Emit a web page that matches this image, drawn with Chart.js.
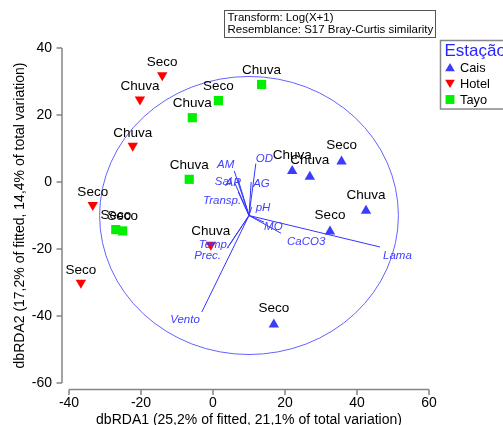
<!DOCTYPE html>
<html>
<head>
<meta charset="utf-8">
<script src="https://cdn.jsdelivr.net/npm/chart.js@4/dist/chart.umd.min.js"></script>
<style>
  html, body { margin: 0; padding: 0; background: #fff; overflow: hidden; }
  canvas { display: block; }
</style>
</head>
<body>
<canvas id="c" width="503" height="425"></canvas>
<script>
// dbRDA sample scores, one set of arrays per station
const caisX = [22.0, 26.9, 35.7, 42.5, 32.5, 16.9];
const caisY = [3.3, 1.6, 6.1, -8.6, -14.8, -42.5];
const caisSeason = ['Chuva', 'Chuva', 'Seco', 'Chuva', 'Seco', 'Seco'];

const hotelX = [-14.1, -20.3, -22.3, -33.4, -36.7, -0.6];
const hotelY = [31.9, 24.6, 10.8, -6.9, -30.1, -18.7];
const hotelSeason = ['Seco', 'Chuva', 'Chuva', 'Seco', 'Seco', 'Chuva'];

const tayoX = [13.5, 1.5, -5.75, -6.6, -27.0, -25.1];
const tayoY = [29.1, 24.3, 19.2, 0.8, -14.2, -14.6];
const tayoSeason = ['Chuva', 'Seco', 'Chuva', 'Chuva', 'Seco', 'Seco'];

// Environmental predictor vectors (end points, axis units)
const vectorNames = ['Lama', 'CaCO3', 'MO', 'pH', 'OD', 'AG', 'AM', 'AP', 'Sal', 'Transp.', 'Temp.', 'Prec.', 'Vento'];
const vectorX = [46.4, 18.9, 14.2, 10.75, 11.9, 10.6, 5.9, 6.9, 6.1, 7.0, 4.5, 3.9, -3.1];
const vectorY = [-19.4, -15.3, -12.0, -7.5, 5.5, 0.0, 3.3, 1.0, -0.4, -3.0, -18.9, -19.8, -38.8];
const vectorOrigin = [10, -10];
const circleRadius = 41.5;

const xTicks = [-40, -20, 0, 20, 40, 60];
const yTicks = [-60, -40, -20, 0, 20, 40];

const xTitle = 'dbRDA1 (25,2% of fitted, 21,1% of total variation)';
const yTitle = 'dbRDA2 (17,2% of fitted, 14,4% of total variation)';
const noteLines = ['Transform: Log(X+1)', 'Resemblance: S17 Bray-Curtis similarity'];
const legendTitle = 'Estação';

const SANS = '"Liberation Sans", Arial, Helvetica, sans-serif';
const BLUE = '#3c3cff';
const RED = '#ff0000';
const GREEN = '#00f000';

function series(label, xs, ys, seasons, color, style, rotation, radius) {
  return {
    label,
    seasons,
    data: xs.map((x, i) => ({ x, y: ys[i] })),
    pointStyle: style,
    rotation,
    pointRadius: radius,
    pointHoverRadius: radius,
    backgroundColor: color,
    borderColor: color,
    borderWidth: 0,
    showLine: false,
    clip: false
  };
}

// offsets (px) of each vector label from its arrow tip
const vectorLabelPlace = {
  'Lama':    ['left', 3, 8],
  'CaCO3':   ['left', 6, 8],
  'MO':      ['left', 0, 4],
  'pH':      ['left', 4, 0],
  'OD':      ['left', 0, -6],
  'AG':      ['left', 2, 0.5],
  'AM':      ['right', 0, -7],
  'AP':      ['right', 3, 3],
  'Sal':     ['right', -3.5, -2],
  'Transp.': ['right', 3, 8],
  'Temp.':   ['right', 1, -1],
  'Prec.':   ['right', -6, 7],
  'Vento':   ['right', -2, 7]
};

function drawMarker(ctx, style, rotation, x, y, r, color) {
  ctx.fillStyle = color;
  ctx.beginPath();
  if (style === 'rect') {
    const s = Math.SQRT1_2 * r;
    ctx.rect(x - s, y - s, 2 * s, 2 * s);
  } else {
    const dir = rotation === 180 ? -1 : 1;
    ctx.moveTo(x, y - dir * r);
    ctx.lineTo(x + 0.866 * r, y + dir * 0.5 * r);
    ctx.lineTo(x - 0.866 * r, y + dir * 0.5 * r);
    ctx.closePath();
  }
  ctx.fill();
}

const ordinationDecor = {
  id: 'ordinationDecor',
  afterDatasetsDraw(chart) {
    const { ctx, scales: { x, y }, chartArea } = chart;
    const px = v => x.getPixelForValue(v);
    const py = v => y.getPixelForValue(v);
    ctx.save();

    // axis lines with outward tick marks, set slightly apart from the plot
    ctx.strokeStyle = '#858585';
    ctx.lineWidth = 1.5;
    const axY = chartArea.bottom + 6.5;
    const axX = chartArea.left - 7;
    ctx.beginPath();
    ctx.moveTo(px(xTicks[0]), axY);
    ctx.lineTo(px(xTicks[xTicks.length - 1]), axY);
    xTicks.forEach(v => { ctx.moveTo(px(v), axY); ctx.lineTo(px(v), axY + 5.5); });
    ctx.moveTo(axX, py(yTicks[yTicks.length - 1]));
    ctx.lineTo(axX, py(yTicks[0]));
    yTicks.forEach(v => { ctx.moveTo(axX, py(v)); ctx.lineTo(axX - 5.5, py(v)); });
    ctx.stroke();

    // correlation circle and predictor vectors
    const cx = px(vectorOrigin[0]);
    const cy = py(vectorOrigin[1]);
    const rx = px(vectorOrigin[0] + circleRadius) - cx;
    const ry = cy - py(vectorOrigin[1] + circleRadius);
    ctx.lineWidth = 1;
    ctx.strokeStyle = '#6262ff';
    ctx.beginPath();
    ctx.ellipse(cx, cy, rx, ry, 0, 0, Math.PI * 2);
    ctx.stroke();

    ctx.strokeStyle = '#3535ff';
    vectorNames.forEach((n, i) => {
      ctx.beginPath();
      ctx.moveTo(cx, cy);
      ctx.lineTo(px(vectorX[i]), py(vectorY[i]));
      ctx.stroke();
    });

    ctx.font = 'italic 11.5px ' + SANS;
    ctx.fillStyle = '#4040ff';
    ctx.textBaseline = 'alphabetic';
    vectorNames.forEach((n, i) => {
      const [align, dx, dy] = vectorLabelPlace[n];
      ctx.textAlign = align;
      ctx.fillText(n, px(vectorX[i]) + dx, py(vectorY[i]) + dy + 4.1);
    });

    // season labels above each sample
    ctx.font = '13.5px ' + SANS;
    ctx.fillStyle = '#000';
    ctx.textAlign = 'center';
    chart.data.datasets.forEach((ds, di) => {
      const meta = chart.getDatasetMeta(di);
      const lift = ds.pointStyle === 'rect' ? 15.5 : (ds.rotation === 180 ? 14 : 17);
      meta.data.forEach((el, i) => {
        ctx.fillText(ds.seasons[i], el.x, el.y - lift + 4.8);
      });
    });

    // transformation note
    ctx.strokeStyle = '#555';
    ctx.lineWidth = 1;
    ctx.strokeRect(224.5, 10.5, 211, 27);
    ctx.font = '11.5px ' + SANS;
    ctx.textAlign = 'left';
    ctx.fillStyle = '#000';
    ctx.fillText(noteLines[0], 227.5, 21);
    ctx.fillText(noteLines[1], 227.5, 33.3);

    // legend
    ctx.strokeStyle = '#888';
    ctx.lineWidth = 1.5;
    ctx.strokeRect(440.5, 40.5, 90, 68.5);
    ctx.font = '17px ' + SANS;
    ctx.fillStyle = '#2424ff';
    ctx.fillText(legendTitle, 444.5, 55.5);
    ctx.font = '12.8px ' + SANS;
    chart.data.datasets.forEach((ds, di) => {
      const ly = 67.5 + di * 16;
      drawMarker(ctx, ds.pointStyle, ds.rotation, 450, ly + (ds.pointStyle === 'rect' ? 0 : (ds.rotation === 180 ? -1 : 1)), ds.pointStyle === 'rect' ? 6.3 : 5.6, ds.backgroundColor);
      ctx.fillStyle = '#000';
      ctx.fillText(ds.label, 460, ly + 4.6);
    });

    ctx.restore();
  }
};

new Chart(document.getElementById('c'), {
  type: 'scatter',
  data: {
    datasets: [
      series('Cais', caisX, caisY, caisSeason, BLUE, 'triangle', 0, 6),
      series('Hotel', hotelX, hotelY, hotelSeason, RED, 'triangle', 180, 6),
      series('Tayo', tayoX, tayoY, tayoSeason, GREEN, 'rect', 0, 6.5)
    ]
  },
  options: {
    responsive: false,
    animation: false,
    devicePixelRatio: 1,
    events: [],
    layout: { padding: { left: 0, top: 48, right: 74, bottom: 0 } },
    plugins: { legend: { display: false }, tooltip: { enabled: false } },
    scales: {
      x: {
        type: 'linear',
        min: xTicks[0],
        max: xTicks[xTicks.length - 1],
        afterBuildTicks: s => { s.ticks = xTicks.map(v => ({ value: v })); },
        afterFit: s => { s.height = 42; },
        grid: { display: false, drawTicks: false },
        border: { display: false },
        ticks: { padding: 12, color: '#000', font: { family: SANS, size: 14 }, maxRotation: 0 },
        title: { display: true, text: xTitle, color: '#000', font: { family: SANS, size: 14 }, padding: { top: 0, bottom: -4 } }
      },
      y: {
        type: 'linear',
        min: yTicks[0],
        max: yTicks[yTicks.length - 1],
        afterBuildTicks: s => { s.ticks = yTicks.map(v => ({ value: v })); },
        afterFit: s => { s.width = 69; },
        grid: { display: false, drawTicks: false },
        border: { display: false },
        ticks: { padding: 17, color: '#000', font: { family: SANS, size: 14 } },
        title: { display: true, text: yTitle, color: '#000', font: { family: SANS, size: 14 }, padding: { top: 12, bottom: 0 } }
      }
    }
  },
  plugins: [ordinationDecor]
});
</script>
</body>
</html>
